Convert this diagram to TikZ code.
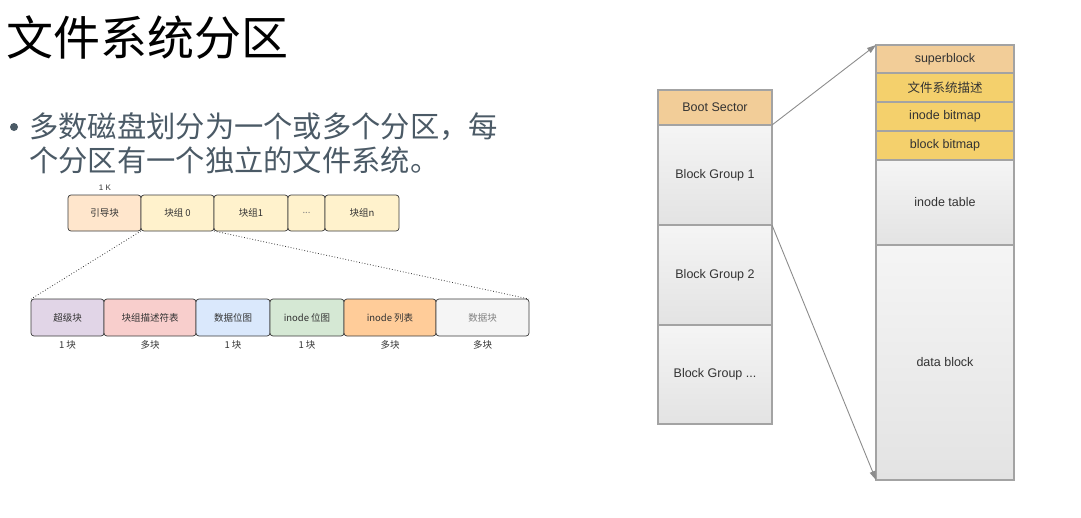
\documentclass[tikz,border=0pt]{standalone}
\usepackage{fontspec}
\setmainfont{Liberation Sans}
\newfontfamily\cjk{Noto Sans CJK SC}
\usetikzlibrary{arrows.meta}

\definecolor{bodytext}{HTML}{4B5A66}
\definecolor{sketch}{HTML}{3A3A3A}
\definecolor{smalltext}{HTML}{333333}
\definecolor{bootfill}{HTML}{FFE6CC}
\definecolor{groupfill}{HTML}{FFF2CC}
\definecolor{superfill}{HTML}{E1D5E7}
\definecolor{descfill}{HTML}{F8CECC}
\definecolor{dbmfill}{HTML}{DAE8FC}
\definecolor{ibmfill}{HTML}{D5E8D4}
\definecolor{itabfill}{HTML}{FFCC99}
\definecolor{datafill}{HTML}{F5F5F5}
\definecolor{frame}{HTML}{A3A3A3}
\definecolor{orangecell}{HTML}{F2CD98}
\definecolor{goldcell}{HTML}{F4D06C}
\definecolor{linkgray}{HTML}{8C8C8C}

\tikzset{
  sk/.style={draw=sketch, line width=0.7pt, rounded corners=3pt, inner sep=0pt,
    outer sep=0pt, anchor=north west, text=smalltext,
    font=\cjk\fontsize{9.5}{10}\selectfont},
  toprow/.style={sk, minimum height=36pt},
  botrow/.style={sk, minimum height=37pt},
  count/.style={font=\cjk\fontsize{9.5}{10}\selectfont, text=smalltext, inner sep=0pt},
  cell/.style={draw=frame, line width=1.1pt, inner sep=0pt, outer sep=0pt,
    anchor=north west, minimum width=114pt, text=smalltext,
    font=\fontsize{12.5}{14}\selectfont},
  wide/.style={cell, minimum width=138pt},
  grey/.style={top color=white!96!black, bottom color=white!89!black},
  dots/.style={dotted, line width=0.8pt, sketch},
  link/.style={draw=linkgray, line width=0.9pt, -{Triangle[length=9pt,width=6pt]}, linkgray},
}

\begin{document}
\begin{tikzpicture}[x=1pt,y=-1pt]
\useasboundingbox (0,0) rectangle (1081,517);

% heading and bullet text
\node[anchor=west, inner sep=0pt, font=\cjk\fontsize{47}{50}\selectfont] (title) at (6,38) {文件系统分区};
\node[circle, fill=bodytext, minimum size=8pt, inner sep=0pt] (dot) at (14,127) {};
\node[anchor=west, inner sep=0pt, text=bodytext, font=\cjk\fontsize{29.3}{32}\selectfont] (line1) at (29,127) {多数磁盘划分为一个或多个分区，每};
\node[anchor=west, inner sep=0pt, text=bodytext, font=\cjk\fontsize{29.3}{32}\selectfont] (line2) at (29,160) {个分区有一个独立的文件系统。};

% partition layout
\node[count, font=\fontsize{8}{9}\selectfont] (onek) at (105,188) {1 K};
\node[toprow, fill=bootfill,  minimum width=73pt] (boot) at (68,195)  {引导块};
\node[toprow, fill=groupfill, minimum width=73pt] (g0)   at (141,195) {块组 0};
\node[toprow, fill=groupfill, minimum width=74pt] (g1)   at (214,195) {块组1};
\node[toprow, fill=groupfill, minimum width=37pt] (gd)   at (288,195) {\textcolor{gray}{...}};
\node[toprow, fill=groupfill, minimum width=74pt] (gn)   at (325,195) {块组n};

% block group layout
\node[botrow, fill=superfill, minimum width=73pt] (sup)  at (31,299)  {超级块};
\node[botrow, fill=descfill,  minimum width=92pt] (desc) at (104,299) {块组描述符表};
\node[botrow, fill=dbmfill,   minimum width=74pt] (dbm)  at (196,299) {数据位图};
\node[botrow, fill=ibmfill,   minimum width=74pt] (ibm)  at (270,299) {inode 位图};
\node[botrow, fill=itabfill,  minimum width=92pt] (itab) at (344,299) {inode 列表};
\node[botrow, fill=datafill,  minimum width=93pt, text=gray] (data) at (436,299) {数据块};

\node[count] (c1) at (sup.south)  [yshift=-9pt] {1 块};
\node[count] (c2) at (desc.south) [yshift=-9pt] {多块};
\node[count] (c3) at (dbm.south)  [yshift=-9pt] {1 块};
\node[count] (c4) at (ibm.south)  [yshift=-9pt] {1 块};
\node[count] (c5) at (itab.south) [yshift=-9pt] {多块};
\node[count] (c6) at (data.south) [yshift=-9pt] {多块};

\draw[dots] (g0.south west) -- (sup.north west);
\draw[dots] (g0.south east) -- (data.north east);

% disk layout (right)
\node[cell, fill=orangecell, minimum height=35pt] (bs)  at (658,90)  {Boot Sector};
\node[cell, grey, minimum height=100pt] (bg1) at (658,125) {Block Group 1};
\node[cell, grey, minimum height=100pt] (bg2) at (658,225) {Block Group 2};
\node[cell, grey, minimum height=99pt]  (bg3) at (658,325) {Block Group ...};

\node[wide, fill=orangecell, minimum height=28pt] (sb)  at (876,45)  {superblock};
\node[wide, fill=goldcell,   minimum height=29pt] (fsd) at (876,73)  {\cjk 文件系统描述};
\node[wide, fill=goldcell,   minimum height=29pt] (ib)  at (876,102) {inode bitmap};
\node[wide, fill=goldcell,   minimum height=29pt] (bb)  at (876,131) {block bitmap};
\node[wide, grey, minimum height=85pt]  (it) at (876,160) {inode table};
\node[wide, grey, minimum height=235pt] (db) at (876,245) {data block};

\draw[link] (bs.south east) -- (sb.north west);
\draw[link] (bg1.south east) -- (db.south west);
\end{tikzpicture}
\end{document}
